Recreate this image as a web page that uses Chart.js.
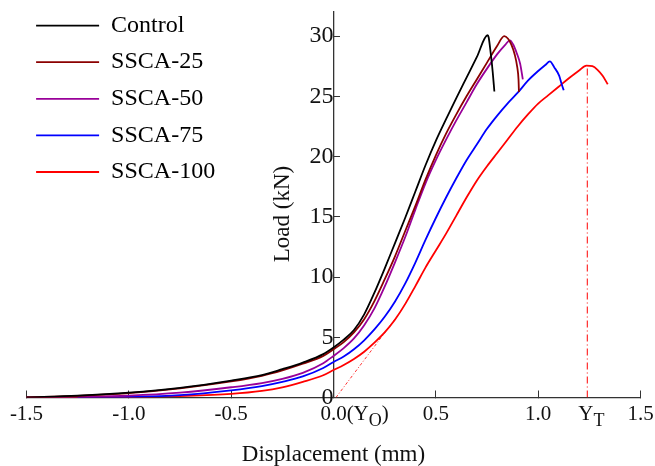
<!DOCTYPE html>
<html>
<head>
<meta charset="utf-8">
<script src="https://cdn.jsdelivr.net/npm/chart.js@4"></script>
<style>
body { margin: 0; background: #fff; }
canvas { display: block; }
</style>
</head>
<body>
<canvas id="load" width="655" height="466"></canvas>
<script>
// series: [displacement (mm), load (kN)]
var names = ["Control", "SSCA-25", "SSCA-50", "SSCA-75", "SSCA-100"];
var colors = ["#000000", "#8b0000", "#990099", "#0000ff", "#ff0000"];

var control = [[-1.5,0],[-1.25,0.15],[-1.0,0.4],[-0.75,0.8],[-0.5,1.4],[-0.35,1.85],[-0.25,2.35],[-0.15,2.9],[-0.05,3.6],[0,4.15],[0.05,4.8],[0.1,5.6],[0.15,6.9],[0.2,8.7],[0.25,10.7],[0.3,12.8],[0.35,14.9],[0.4,17.1],[0.45,19.3],[0.5,21.3],[0.55,23.1],[0.6,24.85],[0.65,26.55],[0.7,28.25],[0.753,30.07],[0.758,29.9],[0.768,28.6],[0.778,27.0],[0.786,25.4]];
var ssca25 = [[-1.5,0],[-1.25,0.14],[-1.0,0.37],[-0.75,0.76],[-0.5,1.33],[-0.35,1.8],[-0.25,2.25],[-0.15,2.8],[-0.05,3.45],[0,4.0],[0.05,4.6],[0.1,5.4],[0.15,6.5],[0.2,8.0],[0.25,9.8],[0.3,11.7],[0.35,13.8],[0.4,15.9],[0.45,18.1],[0.5,20.1],[0.55,21.9],[0.6,23.5],[0.65,25.0],[0.7,26.4],[0.75,27.8],[0.8,29.2],[0.834,30.0],[0.852,29.8],[0.869,29.3],[0.885,28.5],[0.898,27.4],[0.904,26.4],[0.906,25.35]];
var ssca50 = [[-1.5,0],[-1.25,0.05],[-1.0,0.15],[-0.75,0.4],[-0.5,0.85],[-0.35,1.2],[-0.25,1.55],[-0.15,2.05],[-0.05,2.85],[0,3.45],[0.05,4.1],[0.1,4.9],[0.15,6.0],[0.2,7.4],[0.25,9.2],[0.3,11.2],[0.35,13.3],[0.4,15.6],[0.45,17.8],[0.5,19.7],[0.55,21.4],[0.6,23.0],[0.65,24.5],[0.7,26.0],[0.75,27.3],[0.8,28.5],[0.84,29.3],[0.862,29.65],[0.878,29.3],[0.895,28.6],[0.912,27.7],[0.925,26.4]];
var ssca75 = [[-1.25,0],[-1.0,0.05],[-0.75,0.2],[-0.5,0.6],[-0.35,0.95],[-0.25,1.3],[-0.15,1.75],[-0.05,2.45],[0,2.95],[0.05,3.4],[0.1,4.0],[0.15,4.75],[0.2,5.65],[0.25,6.7],[0.3,7.95],[0.35,9.45],[0.4,11.2],[0.45,13.1],[0.5,14.9],[0.55,16.6],[0.6,18.2],[0.65,19.7],[0.7,21.0],[0.75,22.3],[0.8,23.4],[0.85,24.4],[0.9,25.3],[0.95,26.3],[1.0,27.1],[1.035,27.6],[1.057,27.9],[1.079,27.4],[1.103,26.7],[1.115,26.0],[1.125,25.5]];
var ssca100 = [[-1.5,0],[-1.25,0.01],[-1.0,0.03],[-0.75,0.12],[-0.5,0.3],[-0.35,0.55],[-0.25,0.85],[-0.15,1.3],[-0.05,1.85],[0,2.28],[0.05,2.7],[0.1,3.2],[0.15,3.8],[0.2,4.55],[0.25,5.4],[0.3,6.45],[0.35,7.75],[0.4,9.25],[0.45,10.8],[0.5,12.2],[0.55,13.6],[0.6,15.1],[0.65,16.6],[0.7,18.0],[0.75,19.2],[0.8,20.3],[0.85,21.4],[0.9,22.5],[0.95,23.5],[1.0,24.4],[1.05,25.1],[1.1,25.8],[1.15,26.5],[1.2,27.15],[1.236,27.55],[1.265,27.5],[1.29,27.2],[1.315,26.7],[1.34,26.0]];

// helper lines (dash-dot, red)
var ytLine = [[1.24,0],[1.24,27.55]];
var tangent = [[0.012,0],[0.30,6.5]];

var series = [control, ssca25, ssca50, ssca75, ssca100];
var FONT = "'Liberation Serif', 'Times New Roman', serif";

function pts(arr) {
	return arr.map(function(p){ return {x: p[0], y: p[1]}; });
}

var datasets = [];
for (var i = 0; i < series.length; i++) {
	datasets.push({
		label: names[i],
		data: pts(series[i]),
		borderColor: colors[i],
		backgroundColor: colors[i],
		borderWidth: 1.8,
		pointRadius: 0,
		cubicInterpolationMode: "monotone"
	});
}
datasets.push({
	label: "YT",
	data: pts(ytLine),
	borderColor: "#ff0000",
	borderWidth: 1,
	borderDash: [7, 3, 1, 3],
	pointRadius: 0
});
datasets.push({
	label: "tangent",
	data: pts(tangent),
	borderColor: "#ff3333",
	borderWidth: 1,
	borderDash: [3, 2, 1, 2],
	pointRadius: 0
});

// no extra room for overhanging tick labels, layout padding decides
function noPad(scale) {
	scale.paddingLeft = 0;
	scale.paddingRight = 0;
	scale.paddingTop = 0;
	scale.paddingBottom = 0;
}

// subscript labels on the x axis and the rotated y title
var extras = {
	id: "extras",
	afterLayout: function(chart) {
		chart.legend.left = chart.chartArea.left - 3;
		chart.legend.top = chart.chartArea.top - 11;
	},
	afterDraw: function(chart) {
		var ctx = chart.ctx;
		var xs = chart.scales.x;
		var ly = xs.top + 4 + 12.6;
		ctx.save();
		ctx.fillStyle = "#111";
		ctx.textBaseline = "middle";
		ctx.textAlign = "left";
		ctx.font = "21px " + FONT;
		var x0 = xs.getPixelForValue(0) + ctx.measureText("0.0").width / 2;
		ctx.fillText("(Y", x0, ly);
		x0 += ctx.measureText("(Y").width;
		ctx.font = "18px " + FONT;
		ctx.fillText("O", x0, ly + 7);
		x0 += ctx.measureText("O").width;
		ctx.font = "21px " + FONT;
		ctx.fillText(")", x0, ly);

		var xt = xs.getPixelForValue(1.24) - 9;
		ctx.fillText("Y", xt, ly);
		xt += ctx.measureText("Y").width;
		ctx.font = "18px " + FONT;
		ctx.fillText("T", xt, ly + 7);

		ctx.font = "23px " + FONT;
		ctx.textAlign = "center";
		ctx.translate(xs.getPixelForValue(0) - 51, 214);
		ctx.rotate(-Math.PI / 2);
		ctx.fillText("Load (kN)", 0, 0);
		ctx.restore();
	}
};

Chart.defaults.font.family = FONT;
Chart.defaults.color = "#111";

var chart = new Chart(document.getElementById("load").getContext("2d"), {
	type: "line",
	data: { datasets: datasets },
	plugins: [extras],
	options: {
		responsive: false,
		animation: false,
		layout: { padding: { left: 26.5, right: 14.5, top: 12, bottom: 0 } },
		plugins: {
			tooltip: { enabled: false },
			legend: {
				position: "chartArea",
				align: "start",
				labels: {
					filter: function(item) { return item.datasetIndex < 5; },
					usePointStyle: true,
					pointStyle: "line",
					pointStyleWidth: 63,
					padding: 12.6,
					color: "#000",
					font: { size: 24 }
				}
			}
		},
		scales: {
			x: {
				type: "linear",
				min: -1.5,
				max: 1.5,
				afterFit: noPad,
				grid: { drawOnChartArea: false, tickLength: -7, color: "#333", tickWidth: 1 },
				border: { color: "#333", width: 1.3 },
				ticks: {
					stepSize: 0.5,
					autoSkip: false,
					maxRotation: 0,
					padding: 11,
					font: { size: 21 },
					callback: function(v) { return Number(v).toFixed(1); }
				},
				title: {
					display: true,
					text: "Displacement (mm)",
					font: { size: 23, lineHeight: 1 },
					padding: { top: 5.3, bottom: 0 }
				}
			},
			y: {
				type: "linear",
				position: { x: 0 },
				min: 0,
				max: 32,
				afterFit: noPad,
				grid: { drawOnChartArea: false, tickLength: -7, color: "#333", tickWidth: 1 },
				border: { color: "#333", width: 1.3 },
				ticks: {
					stepSize: 5,
					includeBounds: false,
					padding: 9,
					font: { size: 24, lineHeight: 1 }
				}
			}
		}
	}
});
</script>
</body>
</html>
